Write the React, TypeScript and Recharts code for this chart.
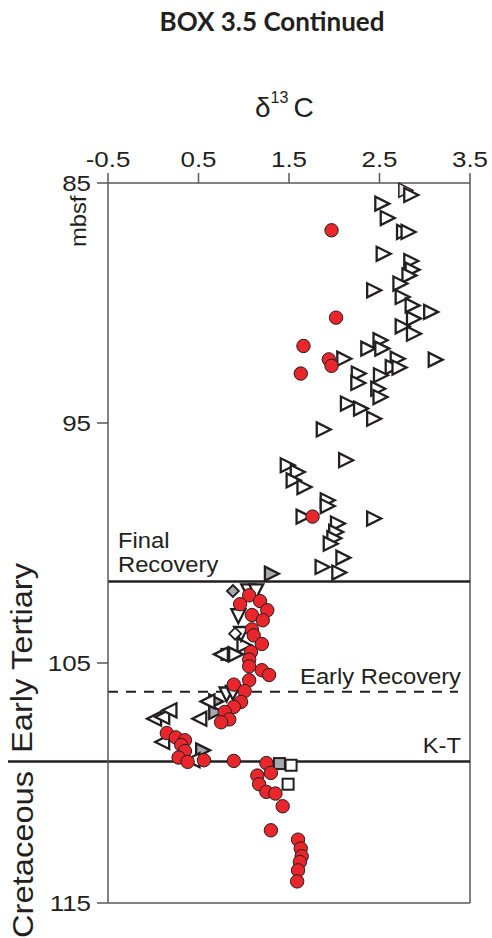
import React from "react";
import { ScatterChart, Scatter, XAxis, YAxis, ReferenceLine, Label } from "recharts";

// axis ticks
const xTicks = [-0.5, 0.5, 1.5, 2.5, 3.5];
const yTicks = [85, 95, 105, 115];

// boundary depths (mbsf)
const finalRecoveryDepth = 101.6;
const earlyRecoveryDepth = 106.2;
const ktDepth = 109.1;

// [d13C, depth mbsf]
const redCircles: [number, number][] = [
  [1.97, 86.97], [2.02, 90.61], [1.66, 91.79], [1.94, 92.35], [1.97, 92.62], [1.63, 92.94],
  [1.76, 98.9],
  [1.06, 102.18], [0.96, 102.55], [1.18, 102.42], [1.26, 102.8], [1.09, 103.0], [1.21, 103.22],
  [1.09, 103.6], [1.11, 103.85], [1.2, 104.21], [1.08, 104.54], [1.06, 104.86], [1.06, 105.14],
  [1.2, 105.3], [1.28, 105.5], [1.06, 105.72], [0.89, 105.9], [1.01, 106.17], [0.97, 106.62],
  [0.89, 106.83], [0.79, 107.04], [0.84, 107.35], [0.75, 107.47],
  [0.15, 107.92], [0.25, 108.1], [0.35, 108.22], [0.31, 108.42], [0.35, 108.67], [0.28, 108.94],
  [0.38, 109.12], [0.56, 109.05], [0.89, 109.08], [1.25, 109.17],
  [1.3, 109.58], [1.15, 109.69], [1.17, 110.05], [1.25, 110.37], [1.35, 110.44], [1.43, 110.97],
  [1.3, 111.97], [1.6, 112.36], [1.63, 112.73], [1.64, 113.05], [1.62, 113.29], [1.6, 113.64],
  [1.59, 114.1],
];

const openRight: [number, number][] = [
  [2.84, 85.5], [2.52, 85.86], [2.58, 86.46], [2.76, 87.04], [2.81, 87.04], [2.535, 87.95],
  [2.84, 88.25], [2.855, 88.61], [2.82, 88.85], [2.72, 89.19], [2.43, 89.47], [2.745, 89.75],
  [2.855, 90.1], [3.06, 90.37], [2.87, 90.65], [2.745, 90.97], [2.87, 91.28], [2.5, 91.55],
  [2.365, 91.9], [2.52, 91.9], [2.1, 92.32], [3.11, 92.36], [2.69, 92.32], [2.635, 92.67],
  [2.71, 92.69], [2.26, 92.94], [2.505, 93.01], [2.255, 93.33], [2.475, 93.57], [2.5, 93.92],
  [2.14, 94.19], [2.285, 94.4], [2.43, 94.82], [1.873, 95.27], [2.12, 96.55], [1.475, 96.76],
  [1.586, 97.04], [1.54, 97.39], [1.66, 97.67], [1.917, 98.22], [1.917, 98.46], [1.65, 98.9],
  [2.43, 98.98], [2.03, 99.19], [2.01, 99.54], [1.99, 99.8], [1.95, 100.03], [2.09, 100.61],
  [1.86, 101.0], [2.045, 101.23],
  [0.997, 104.26], [0.905, 104.64],
];

const lightRight: [number, number][] = [[2.78, 85.3]];

const grayRight: [number, number][] = [
  [1.3, 101.28], [0.685, 106.6], [0.685, 107.04], [0.54, 108.64],
];

const openDown: [number, number][] = [
  [1.05, 101.97], [1.137, 101.97], [0.94, 103.01], [0.97, 103.75], [0.81, 106.27], [0.88, 106.2],
];

const openLeft: [number, number][] = [
  [0.758, 104.64], [0.61, 106.6], [0.52, 107.32], [0.02, 107.32], [0.11, 107.25], [0.19, 106.97],
  [0.11, 108.29], [0.445, 109.05],
];

const grayDiamonds: [number, number][] = [[0.88, 102.0]];
const openDiamonds: [number, number][] = [[0.905, 103.78]];
const graySquares: [number, number][] = [[0.813, 104.64], [1.394, 109.19]];
const openSquares: [number, number][] = [[1.523, 109.26], [1.49, 110.05]];

const ink = "#231f20";
const axisGray = "#58595b";
const red = "#e9262b";
const gray = "#a7a9ac";
const sans = "'Liberation Sans', Arial, sans-serif";

const pts = (arr: [number, number][]) => arr.map(([x, y]) => ({ x, y }));

const triRight = (fill: string, sw = 2.3) => (p: any) => (
  <polygon
    points={`${p.cx - 6},${p.cy - 7} ${p.cx - 6},${p.cy + 7} ${p.cx + 8},${p.cy}`}
    fill={fill} stroke={ink} strokeWidth={sw}
  />
);
const triLeft = (fill: string) => (p: any) => (
  <polygon
    points={`${p.cx + 6},${p.cy - 7} ${p.cx + 6},${p.cy + 7} ${p.cx - 8},${p.cy}`}
    fill={fill} stroke={ink} strokeWidth={2.3}
  />
);
const triDown = (fill: string) => (p: any) => (
  <polygon
    points={`${p.cx - 7},${p.cy - 6} ${p.cx + 7},${p.cy - 6} ${p.cx},${p.cy + 8}`}
    fill={fill} stroke={ink} strokeWidth={2.3}
  />
);
const diamond = (fill: string) => (p: any) => (
  <polygon
    points={`${p.cx},${p.cy - 6} ${p.cx + 6},${p.cy} ${p.cx},${p.cy + 6} ${p.cx - 6},${p.cy}`}
    fill={fill} stroke={ink} strokeWidth={1.8}
  />
);
const square = (fill: string) => (p: any) => (
  <rect x={p.cx - 5.5} y={p.cy - 5.5} width={11} height={11} fill={fill} stroke={ink} strokeWidth={2} />
);
const circle = (p: any) => <circle cx={p.cx} cy={p.cy} r={6.7} fill={red} stroke={ink} strokeWidth={1} />;

const XTick = (props: any) => {
  const { x, y, payload } = props;
  return (
    <text transform={`translate(${x},${y}) scale(1.18,1)`} textAnchor="middle" fontSize={22} fill={ink} fontFamily={sans}>
      {payload.value}
    </text>
  );
};

const YTick = (props: any) => {
  const { x, y, payload } = props;
  return (
    <text transform={`translate(${x},${y + 8}) scale(1.18,1)`} textAnchor="end" fontSize={22} fill={ink} fontFamily={sans}>
      {payload.value}
    </text>
  );
};

const lineText = (lines: string[], anchor: "start" | "end", dx: number, dy: number) => (props: any) => {
  const vb = props.viewBox || {};
  const x0 = anchor === "start" ? vb.x + dx : vb.x + vb.width - dx;
  return (
    <g>
      {lines.map((t, i) => (
        <text
          key={t}
          transform={`translate(${x0},${vb.y + dy + i * 24 - (lines.length - 1) * 24}) scale(1.08,1)`}
          textAnchor={anchor}
          fontSize={22}
          fill={ink}
          fontFamily={sans}
        >
          {t}
        </text>
      ))}
    </g>
  );
};

const App: React.FC = () => {
  return (
    <div style={{ position: "absolute", left: 0, top: 0, width: 492, height: 938, background: "#fff" }}>
      <ScatterChart width={492} height={938} margin={{ top: 143, right: 22, bottom: 35, left: 58 }}>
        <XAxis
          type="number"
          dataKey="x"
          orientation="top"
          domain={[-0.5, 3.5]}
          ticks={xTicks}
          height={40}
          tickSize={10}
          tickMargin={6}
          tick={<XTick />}
          axisLine={{ stroke: axisGray, strokeWidth: 1.5 }}
          tickLine={{ stroke: axisGray, strokeWidth: 1.5 }}
        />
        <YAxis
          type="number"
          dataKey="y"
          reversed
          domain={[85, 115]}
          ticks={yTicks}
          width={50}
          tickSize={11}
          tickMargin={6}
          tick={<YTick />}
          axisLine={{ stroke: axisGray, strokeWidth: 1.5 }}
          tickLine={{ stroke: axisGray, strokeWidth: 1.5 }}
        />
        <ReferenceLine x={3.5} stroke={axisGray} strokeWidth={1.5} />
        <ReferenceLine y={115} stroke={axisGray} strokeWidth={1.5} />
        <ReferenceLine y={finalRecoveryDepth} stroke={ink} strokeWidth={2.5}>
          <Label content={lineText(["Final", "Recovery"], "start", 10, -9)} />
        </ReferenceLine>
        <ReferenceLine
          y={earlyRecoveryDepth}
          stroke={ink}
          strokeWidth={2}
          shape={(p: any) => (
            <line x1={p.x1} y1={p.y1} x2={p.x2 - 12} y2={p.y2} stroke={ink} strokeWidth={2} strokeDasharray="10 8" />
          )}
        >
          <Label content={lineText(["Early Recovery"], "end", 9, -8)} />
        </ReferenceLine>
        <ReferenceLine
          y={ktDepth}
          stroke={ink}
          strokeWidth={2.5}
          shape={(p: any) => (
            <line x1={p.x1 - 100} y1={p.y1} x2={p.x2} y2={p.y2} stroke={ink} strokeWidth={2.5} />
          )}
        >
          <Label content={lineText(["K-T"], "end", 9, -8)} />
        </ReferenceLine>
        <Scatter data={pts(graySquares)} shape={square(gray)} isAnimationActive={false} />
        <Scatter data={pts(openSquares)} shape={square("#fff")} isAnimationActive={false} />
        <Scatter data={pts(lightRight)} shape={triRight("#e6e7e8", 1.5)} isAnimationActive={false} />
        <Scatter data={pts(openRight)} shape={triRight("#fff")} isAnimationActive={false} />
        <Scatter data={pts(grayRight)} shape={triRight(gray)} isAnimationActive={false} />
        <Scatter data={pts(openDown)} shape={triDown("#fff")} isAnimationActive={false} />
        <Scatter data={pts(openLeft)} shape={triLeft("#fff")} isAnimationActive={false} />
        <Scatter data={pts(grayDiamonds)} shape={diamond(gray)} isAnimationActive={false} />
        <Scatter data={pts(openDiamonds)} shape={diamond("#fff")} isAnimationActive={false} />
        <Scatter data={pts(redCircles)} shape={circle} isAnimationActive={false} />
      </ScatterChart>
      <svg width={492} height={938} style={{ position: "absolute", left: 0, top: 0, pointerEvents: "none" }}>
        <text x={272} y={31} textAnchor="middle" fontSize={26} fontWeight="bold" fill={ink} fontFamily="Lato, sans-serif">
          BOX 3.5 Continued
        </text>
        <text x={255} y={117} fontSize={28} fill={ink} fontFamily={sans}>
          δ<tspan fontSize={16} dy={-14}>13</tspan>
          <tspan dy={14} dx={5}>C</tspan>
        </text>
        <text transform="translate(86,247) rotate(-90) scale(1.08,1)" fontSize={22} fill={ink} fontFamily={sans}>
          mbsf
        </text>
        <text transform="translate(32,753) rotate(-90) scale(1.09,1)" fontSize={30} fill={ink} fontFamily={sans}>
          Early Tertiary
        </text>
        <text transform="translate(33,938) rotate(-90) scale(1.09,1)" fontSize={30} fill={ink} fontFamily={sans}>
          Cretaceous
        </text>
      </svg>
    </div>
  );
};

export default App;
